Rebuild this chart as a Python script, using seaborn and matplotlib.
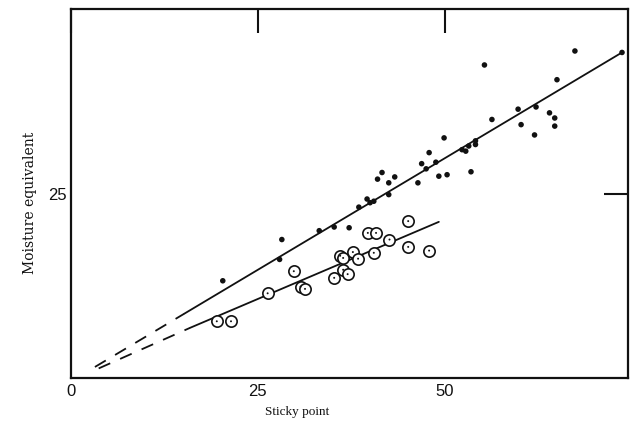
import matplotlib
matplotlib.use("Agg")
import matplotlib.pyplot as plt
import seaborn as sns
import pandas as pd

# filled dots (upper series)
dots_x = [20.3, 28.2, 27.9, 33.2, 35.2, 37.2, 38.5, 39.6, 40.0, 40.5, 41.0, 41.6, 42.5, 43.3,
          42.5, 46.4, 46.9, 47.9, 47.5, 48.8, 49.2, 50.3, 49.9, 52.3, 52.8, 53.2, 54.1, 54.1,
          53.5, 55.3, 56.3, 59.8, 60.2, 62.0, 62.2, 64.0, 64.7, 64.7, 65.0, 67.4, 73.7]
dots_y = [13.2, 18.8, 16.1, 20.0, 20.5, 20.4, 23.2, 24.3, 23.8, 24.0, 27.0, 27.9, 26.5, 27.3,
          24.9, 26.5, 29.1, 30.6, 28.4, 29.3, 27.4, 27.6, 32.6, 31.0, 30.8, 31.5, 31.7, 32.2,
          28.0, 42.5, 35.1, 36.5, 34.4, 33.0, 36.8, 36.0, 35.3, 34.2, 40.5, 44.4, 44.2]

# open circles (lower series)
circ_x = [19.5, 21.4, 26.3, 29.8, 30.7, 31.3, 35.2, 36.0, 36.4, 36.4, 37.0, 37.7, 38.4,
          39.7, 40.8, 40.5, 42.6, 45.1, 45.1, 47.9]
circ_y = [7.7, 7.7, 11.5, 14.5, 12.4, 12.1, 13.6, 16.6, 16.3, 14.7, 14.1, 17.1, 16.2,
          19.7, 19.7, 17.0, 18.8, 21.3, 17.8, 17.3]

# fitted lines: solid part and dashed extrapolation
upper_x = [15.1, 73.7]
upper_y = [8.7, 44.2]
upper_ext_x = [3.2, 15.1]
upper_ext_y = [1.5, 8.7]
lower_x = [15.9, 49.2]
lower_y = [6.8, 21.2]
lower_ext_x = [3.7, 15.9]
lower_ext_y = [1.3, 6.8]

xticks = [0, 25, 50]
yticks = [25]

sns.set_style("white")

fig = plt.figure(figsize=(6.32, 4.22), dpi=100)
ax = fig.add_axes([71 / 632, 1 - 378 / 422, 557 / 632, 369 / 422])

ink = "#111111"
sns.lineplot(x=upper_x, y=upper_y, ax=ax, color=ink, lw=1.3)
sns.lineplot(x=lower_x, y=lower_y, ax=ax, color=ink, lw=1.3)
sns.lineplot(x=upper_ext_x, y=upper_ext_y, ax=ax, color=ink, lw=1.3)
sns.lineplot(x=lower_ext_x, y=lower_ext_y, ax=ax, color=ink, lw=1.3)
for ln in ax.lines[2:]:
    ln.set_dashes((7, 6))

sns.scatterplot(x=dots_x, y=dots_y, ax=ax, color=ink, s=16, edgecolor="none", zorder=3)
sns.scatterplot(x=circ_x, y=circ_y, ax=ax, facecolor="white", edgecolor=ink,
                linewidth=1.2, s=66, zorder=3)
sns.scatterplot(x=circ_x, y=circ_y, ax=ax, color=ink, s=2, edgecolor="none", zorder=4)

ax.set_xlim(0, 74.5)
ax.set_ylim(0, 50.1)
ax.set_xticks(xticks)
ax.set_yticks(yticks)
ax.tick_params(direction="in", length=17, width=1.5, colors=ink, labelsize=12,
               top=True, right=True, pad=4)
ax.tick_params(axis="y", pad=3)
for s in ax.spines.values():
    s.set_visible(True)
    s.set_linewidth(1.6)
    s.set_color(ink)
for lab in ax.get_xticklabels() + ax.get_yticklabels():
    lab.set_family("Liberation Sans")

ax.set_xlabel("Sticky point", family="Liberation Serif", fontsize=9.5, color=ink)
ax.set_ylabel("Moisture equivalent", family="DejaVu Serif", fontsize=10, color=ink)
ax.xaxis.set_label_coords(0.406, -0.076)
ax.yaxis.set_label_coords(-0.061, 0.474)

fig.savefig("out.png", dpi=100)
